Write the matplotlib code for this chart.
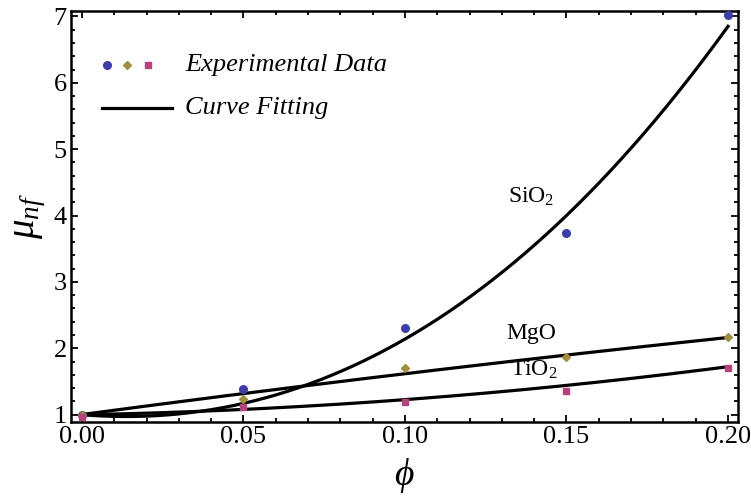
import numpy as np
import matplotlib
matplotlib.use("Agg")
import matplotlib.pyplot as plt
from matplotlib.ticker import MultipleLocator, FormatStrFormatter

plt.rcParams['font.family'] = ['Liberation Serif', 'DejaVu Serif']
plt.rcParams['mathtext.fontset'] = 'custom'
plt.rcParams['mathtext.rm'] = 'Liberation Serif'
plt.rcParams['mathtext.it'] = 'Liberation Serif:italic'

# experimental points
phi = [0.0, 0.05, 0.10, 0.15, 0.20]
sio2 = [1.00, 1.38, 2.31, 3.74, 7.02]
mgo = [1.00, 1.24, 1.71, 1.87, 2.17]
tio2 = [0.97, 1.11, 1.19, 1.36, 1.71]

# fitted curves, values at the same phi
sio2_fit = [1.00, 1.17, 2.14, 4.00, 6.85]
mgo_fit = [1.00, 1.32, 1.63, 1.88, 2.17]
tio2_fit = [1.00, 1.08, 1.22, 1.45, 1.72]

labels = ['SiO$_2$', 'MgO', 'TiO$_2$']
label_pos = [(0.139, 4.28), (0.139, 2.22), (0.140, 1.67)]

c_blue = '#3c3cae'
c_olive = '#a08f3c'
c_pink = '#b8437c'

fig = plt.figure(figsize=(7.51, 5.04), dpi=100)
ax = fig.add_axes([0.0945, 0.1627, 0.8882, 0.8153])

# smooth fitted curves
xs = np.linspace(0, 0.2, 300)
for vals, deg in ((sio2_fit, 3), (mgo_fit, 2), (tio2_fit, 2)):
    coef = np.polyfit(phi, vals, deg)
    ax.plot(xs, np.polyval(coef, xs), color='black', lw=2.3, zorder=2)

ax.plot(phi, sio2, 'o', color=c_blue, ms=5.5, zorder=3, clip_on=False)
ax.plot(phi, mgo, 'D', color=c_olive, ms=4.5, zorder=3, clip_on=False)
ax.plot(phi, tio2, 's', color=c_pink, ms=5, zorder=3, clip_on=False)

for lab, (x, y) in zip(labels, label_pos):
    ax.text(x, y, lab, fontsize=17, ha='center', va='center')

# legend drawn by hand, Mathematica style
tr = ax.transAxes
ly1 = (422 - 65) / 411
ly2 = (422 - 108) / 411
ax.plot([(107 - 71) / 667], [ly1], 'o', color=c_blue, ms=5.5, transform=tr, clip_on=False)
ax.plot([(127 - 71) / 667], [ly1], 'D', color=c_olive, ms=4.5, transform=tr, clip_on=False)
ax.plot([(148 - 71) / 667], [ly1], 's', color=c_pink, ms=5, transform=tr, clip_on=False)
ax.plot([(102 - 71) / 667, (172 - 71) / 667], [ly2, ly2], color='black', lw=2.3, transform=tr)
ax.text((185 - 71) / 667, ly1, 'Experimental Data', style='italic', fontsize=19,
        transform=tr, va='center', ha='left')
ax.text((185 - 71) / 667, ly2, 'Curve Fitting', style='italic', fontsize=19,
        transform=tr, va='center', ha='left')

ax.set_xlim(-0.0034, 0.2031)
ax.set_ylim(0.89, 7.08)
ax.xaxis.set_major_locator(MultipleLocator(0.05))
ax.xaxis.set_minor_locator(MultipleLocator(0.01))
ax.xaxis.set_major_formatter(FormatStrFormatter('%.2f'))
ax.yaxis.set_major_locator(MultipleLocator(1))
ax.yaxis.set_minor_locator(MultipleLocator(0.2))
ax.tick_params(which='both', direction='in', top=True, right=True, width=1.3)
ax.tick_params(which='major', length=5, labelsize=19, pad=3)
ax.tick_params(which='minor', length=3)
for s in ax.spines.values():
    s.set_linewidth(1.8)

ax.set_xlabel(r'$\phi$', fontsize=27, labelpad=6)
ax.set_ylabel(r'$\mu_{nf}$', fontsize=28, labelpad=4)

fig.savefig('out.png', dpi=100)
